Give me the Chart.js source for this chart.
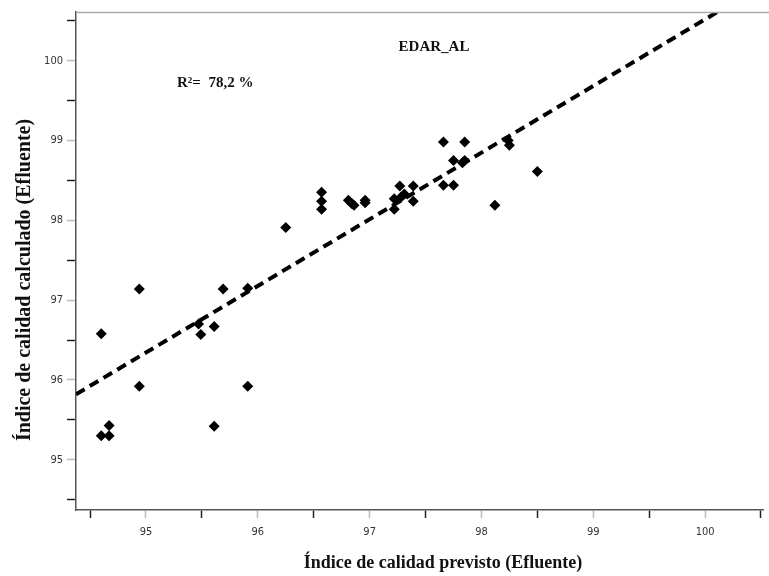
<!DOCTYPE html>
<html>
<head>
<meta charset="utf-8">
<script src="https://cdn.jsdelivr.net/npm/chart.js@4/dist/chart.umd.min.js"></script>
<style>
html,body{margin:0;padding:0;background:#fff;}
#wrap{width:769px;height:576px;position:relative;}
</style>
</head>
<body>
<div id="wrap"><canvas id="c" width="769" height="576"></canvas></div>
<script>
// Data
const predicted = [94.60, 94.94, 95.69, 95.91, 95.47, 95.49, 95.61, 94.94, 95.91, 95.61, 94.67, 94.60, 94.67,
  96.25, 96.57, 96.57, 96.57, 96.81, 96.84, 96.86, 96.96, 96.96, 97.27, 97.22, 97.28, 97.22, 97.31,
  97.39, 97.39, 97.66, 97.85, 97.75, 97.85, 97.83, 97.66, 97.75, 98.24, 98.25, 98.50, 98.12];
const calculated = [96.58, 97.14, 97.14, 97.15, 96.70, 96.57, 96.67, 95.92, 95.92, 95.42, 95.43, 95.30, 95.30,
  97.91, 98.35, 98.24, 98.14, 98.25, 98.21, 98.19, 98.22, 98.25, 98.43, 98.27, 98.29, 98.14, 98.33,
  98.43, 98.24, 98.98, 98.98, 98.75, 98.75, 98.72, 98.44, 98.44, 99.00, 98.94, 98.61, 98.19];
const fitX = [94.374, 100.11];
const fitY = [95.82, 100.61];
const xTickLabels = [95, 96, 97, 98, 99, 100];
const yTickLabels = [95, 96, 97, 98, 99, 100];
const chartLabel = 'EDAR_AL';
const r2Label = 'R²=  78,2 %';
const xTitle = 'Índice de calidad previsto (Efluente)';
const yTitle = 'Índice de calidad calculado (Efluente)';

const points = predicted.map((x, i) => ({x: x, y: calculated[i]}));
const fitLine = fitX.map((x, i) => ({x: x, y: fitY[i]}));

const isMajor = (v, list) => list.some(t => Math.abs(t - v) < 1e-6);

const serif = "'Liberation Serif', 'DejaVu Serif', serif";
const tickFont = {family: "'DejaVu Sans Condensed', 'DejaVu Sans', sans-serif", size: 11};

const decor = {
  id: 'decor',
  afterDraw(chart) {
    const ctx = chart.ctx;
    const a = chart.chartArea;
    ctx.save();
    // top frame line
    ctx.strokeStyle = '#aaaaaa';
    ctx.lineWidth = 1.5;
    ctx.beginPath();
    ctx.moveTo(a.left, a.top + 0.5);
    ctx.lineTo(chart.width, a.top + 0.5);
    ctx.stroke();
    ctx.fillStyle = '#111';
    ctx.textBaseline = 'middle';
    ctx.textAlign = 'center';
    ctx.font = "bold 15px " + serif;
    ctx.fillText(chartLabel, 434, 47);
    ctx.textAlign = 'left';
    ctx.fillText(r2Label, 177, 83);
    // axis titles
    ctx.font = "bold 18px " + serif;
    ctx.textAlign = 'center';
    ctx.fillText(xTitle, 443, 563);
    ctx.font = "bold 20px " + serif;
    ctx.translate(25, 280);
    ctx.rotate(-Math.PI / 2);
    ctx.fillText(yTitle, 0, 0);
    ctx.restore();
  }
};

new Chart(document.getElementById('c'), {
  type: 'scatter',
  data: {
    datasets: [
      {
        type: 'line',
        data: fitLine,
        borderColor: '#000',
        borderWidth: 4,
        borderDash: [10, 6],
        pointRadius: 0,
        fill: false,
        order: 2
      },
      {
        data: points,
        pointStyle: 'rectRot',
        pointRadius: 5.5,
        backgroundColor: '#000',
        borderColor: '#000',
        borderWidth: 0,
        order: 1
      }
    ]
  },
  options: {
    responsive: false,
    animation: false,
    layout: {padding: {top: 12, right: 1, left: 0, bottom: 0}},
    plugins: {legend: {display: false}, tooltip: {enabled: false}},
    scales: {
      x: {
        type: 'linear',
        min: 94.374,
        max: 100.52,
        afterFit(s) { s.height = 66; },
        border: {display: true, color: '#555', width: 1.5},
        grid: {
          drawOnChartArea: false,
          drawTicks: true,
          tickLength: 8,
          tickColor: c => isMajor(c.tick.value, xTickLabels) ? '#bbbbbb' : '#222',
          tickWidth: 1.5
        },
        ticks: {
          stepSize: 0.5,
          includeBounds: false,
          autoSkip: false,
          maxRotation: 0,
          padding: 8,
          color: '#333',
          font: tickFont,
          callback: v => isMajor(v, xTickLabels) ? String(Math.round(v)) : ''
        }
      },
      y: {
        type: 'linear',
        min: 94.37,
        max: 100.61,
        afterFit(s) { s.width = 76; },
        border: {display: true, color: '#555', width: 1.5},
        grid: {
          drawOnChartArea: false,
          drawTicks: true,
          tickLength: 9,
          tickColor: c => isMajor(c.tick.value, yTickLabels) ? '#bbbbbb' : '#222',
          tickWidth: 1.5
        },
        ticks: {
          stepSize: 0.5,
          includeBounds: false,
          autoSkip: false,
          padding: 4,
          color: '#333',
          font: tickFont,
          callback: v => isMajor(v, yTickLabels) ? String(Math.round(v)) : ''
        }
      }
    }
  },
  plugins: [decor]
});
</script>
</body>
</html>
